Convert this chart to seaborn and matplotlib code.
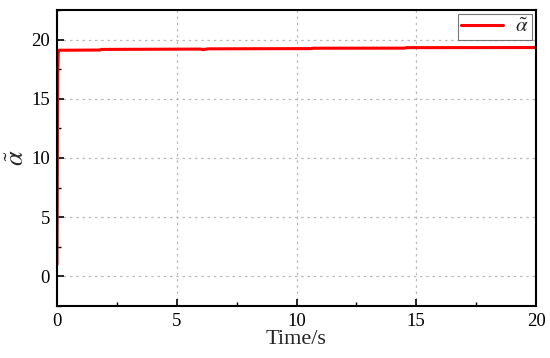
import matplotlib
matplotlib.use("Agg")
import matplotlib.pyplot as plt
import seaborn as sns
import pandas as pd
from matplotlib.ticker import MultipleLocator

time_s = [0.0, 0.01, 0.02, 0.03, 0.05, 0.08, 1.8, 1.85, 6.0, 6.1, 6.3, 10.6, 10.7, 14.5, 14.6, 20.0]
alpha_t = [1.0, 6.0, 12.5, 17.0, 18.9, 19.1, 19.12, 19.17, 19.2, 19.15, 19.22, 19.24, 19.27, 19.28, 19.32, 19.33]

df = pd.DataFrame({"t": time_s, "a": alpha_t})

sns.set_theme(style="white")
plt.rcParams['font.family'] = ['Liberation Serif', 'DejaVu Serif']
plt.rcParams['mathtext.fontset'] = 'stix'

fig = plt.figure(figsize=(5.5, 3.58), dpi=100)
ax = fig.add_axes([57/550, 52/358, 479/550, 296/358])
sns.lineplot(data=df, x="t", y="a", ax=ax, color="#ff0000", linewidth=2.2,
             label=r"$\tilde{\alpha}$", estimator=None)
ax.set_xlim(0, 20)
ax.set_ylim(-2.5, 22.5)
ax.xaxis.set_major_locator(MultipleLocator(5))
ax.xaxis.set_minor_locator(MultipleLocator(2.5))
ax.yaxis.set_major_locator(MultipleLocator(5))
ax.yaxis.set_minor_locator(MultipleLocator(2.5))
ax.tick_params(which='major', direction='in', length=5, width=1.2, colors='black',
               labelsize=13.5, top=False, right=False, bottom=True, left=True, pad=5)
ax.tick_params(which='minor', direction='in', length=3, width=1.0, colors='black',
               top=False, right=False, bottom=True, left=True)
ax.grid(True, which='major', linestyle=(0, (2, 3)), color='#bbbbbb', linewidth=0.9)
for s in ax.spines.values():
    s.set_color('black')
    s.set_linewidth(1.5)
ax.set_xlabel("Time/s", fontsize=16, labelpad=0)
ax.set_ylabel(r"$\tilde{\alpha}$", fontsize=19)
ax.yaxis.set_label_coords(-0.058, 0.5)
leg = ax.legend(loc='upper right', fontsize=15, frameon=True, fancybox=False,
                borderaxespad=0.2, handlelength=2.0, borderpad=0.15, handletextpad=0.6)
leg.get_frame().set_edgecolor('#555555')
leg.get_frame().set_linewidth(0.8)
fig.savefig("out.png", dpi=100)
